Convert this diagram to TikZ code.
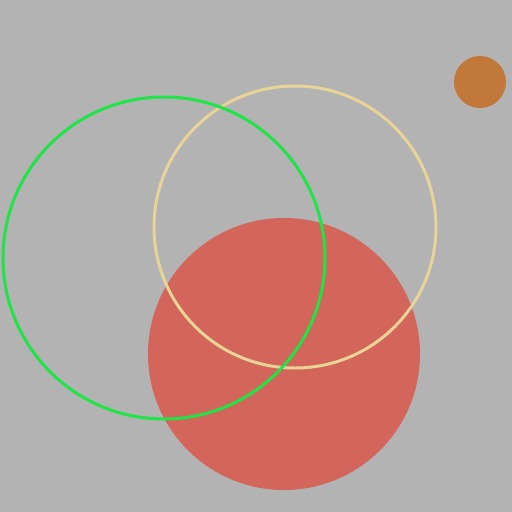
\documentclass[tikz,border=0pt]{standalone}
\definecolor{bggray}{RGB}{179,179,179}
\definecolor{ringgreen}{RGB}{30,228,70}
\definecolor{ringtan}{RGB}{232,212,150}
\definecolor{discred}{RGB}{211,101,90}
\definecolor{discorange}{RGB}{194,120,56}
\begin{document}
\begin{tikzpicture}[x=0.02cm, y=-0.02cm,
    ring_style/.style={line width=1.7pt},
    disc_style/.style={draw=none}
]
% fond
\fill[bggray] (0,0) rectangle (512,512);
\useasboundingbox (0,0) rectangle (512,512);
% disques et anneaux
\fill[disc_style, discred] (284,354) circle (136);
\draw[ring_style, ringtan] (295,227) circle (141);
\draw[ring_style, ringgreen] (164,258) circle (161);
\fill[disc_style, discorange] (480,82) circle (26);
\end{tikzpicture}
\end{document}
